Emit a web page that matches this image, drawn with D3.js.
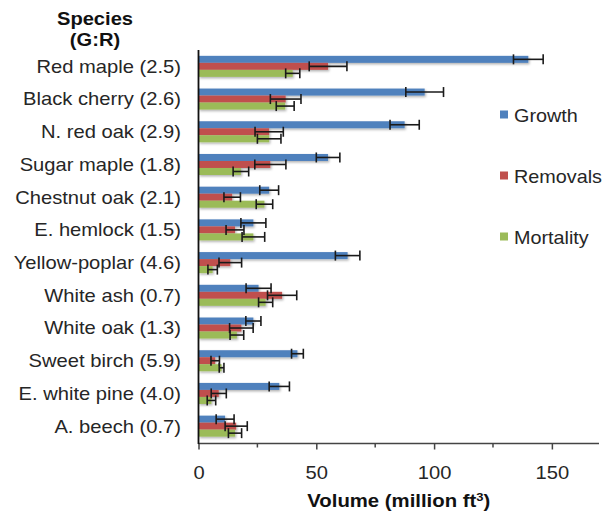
<!DOCTYPE html>
<html>
<head>
<meta charset="utf-8">
<script src="https://cdn.jsdelivr.net/npm/d3@7"></script>
<style>
  html, body { margin: 0; padding: 0; background: #fff; }
  svg { display: block; font-family: "Liberation Sans", Arial, sans-serif; }
</style>
</head>
<body>
<svg id="chart" width="615" height="514"></svg>
<script>
// Species with growth-to-removals ratio (G:R)
const species = [
  "Red maple (2.5)", "Black cherry (2.6)", "N. red oak (2.9)", "Sugar maple (1.8)",
  "Chestnut oak (2.1)", "E. hemlock (1.5)", "Yellow-poplar (4.6)", "White ash (0.7)",
  "White oak (1.3)", "Sweet birch (5.9)", "E. white pine (4.0)", "A. beech (0.7)"
];
const seriesNames = ["Growth", "Removals", "Mortality"];
const seriesColors = ["#4F81BD", "#C0504D", "#9BBB59"];

// Annual volume, million cubic feet
const growth      = [140, 96, 87.5, 55, 30, 23.3, 63.3, 25.5, 23.3, 42, 34.3, 11.3];
const growthErr   = [6.3, 8, 6.2, 5, 4, 5.3, 5.2, 5.3, 3.2, 2.5, 4.3, 3.8];
const removals    = [55, 37, 30, 30.5, 14.3, 15.5, 13.5, 35.5, 18.2, 7.1, 8.6, 16];
const removalsErr = [8, 6.5, 6, 6.6, 3.5, 3.8, 4.8, 6.2, 5, 1.8, 3.2, 4.7];
const mortality   = [40, 36.8, 30, 18, 28, 23.3, 6, 28.5, 16.3, 9.8, 5.5, 15.5];
const mortalityErr= [3, 3.8, 5, 3.3, 3.5, 4.8, 2, 3, 2.9, 1, 1.8, 2.8];

const xTicksMajor = [0, 50, 100, 150];
const xTicksMinor = [25, 75, 125];

const values = [growth, removals, mortality];
const errors = [growthErr, removalsErr, mortalityErr];

const rows = [];
species.forEach((s, i) => {
  seriesNames.forEach((n, k) => {
    rows.push({ species: s, series: n, k, value: values[k][i], err: errors[k][i] });
  });
});

const svg = d3.select("#chart");
const plotLeft = 198.5, plotRight = 599, plotTop = 50, plotBottom = 442.5;
const stretch = 1.12;

const x = d3.scaleLinear().domain([0, 170]).range([plotLeft, plotRight]);
const y = d3.scaleBand().domain(species).range([plotTop, plotBottom])
  .paddingInner(0.357).paddingOuter(0.1785);
const ySub = d3.scaleBand().domain(seriesNames).range([0, y.bandwidth()]);
const color = d3.scaleOrdinal().domain(seriesNames).range(seriesColors);

// soft drop shadow under bars
const defs = svg.append("defs");
const f = defs.append("filter").attr("id", "shadow")
  .attr("x", "-5%").attr("y", "-40%").attr("width", "120%").attr("height", "200%");
f.append("feDropShadow").attr("dx", 1.2).attr("dy", 1.5)
  .attr("stdDeviation", 0.8).attr("flood-color", "#000").attr("flood-opacity", 0.3);

// bars
svg.append("g").attr("filter", "url(#shadow)")
  .selectAll("rect").data(rows).join("rect")
  .attr("x", x(0))
  .attr("y", d => y(d.species) + ySub(d.series))
  .attr("width", d => x(d.value) - x(0))
  .attr("height", ySub.bandwidth())
  .attr("fill", d => color(d.series));

// error bars
const eb = svg.append("g").attr("stroke", "#1a1a1a").attr("stroke-width", 1.6).attr("fill", "none");
rows.forEach(d => {
  const cy = y(d.species) + ySub(d.series) + ySub.bandwidth() / 2;
  const x0 = x(d.value - d.err), x1 = x(d.value + d.err);
  eb.append("line").attr("x1", x0).attr("x2", x1).attr("y1", cy).attr("y2", cy);
  eb.append("line").attr("x1", x0).attr("x2", x0).attr("y1", cy - 5).attr("y2", cy + 5);
  eb.append("line").attr("x1", x1).attr("x2", x1).attr("y1", cy - 5).attr("y2", cy + 5);
});

// x axis
const xAxisG = svg.append("g").attr("transform", `translate(0,${plotBottom + 1})`);
xAxisG.call(d3.axisBottom(x).tickValues(xTicksMajor).tickSize(6).tickSizeOuter(0).tickFormat(d3.format("d")));
xAxisG.select(".domain").attr("stroke", "#444").attr("stroke-width", 1.5)
  .attr("d", `M${plotLeft},0H${plotRight}`);
xAxisG.selectAll(".tick line").attr("stroke", "#444").attr("stroke-width", 1.5);
xAxisG.selectAll(".tick text")
  .attr("font-size", 18).attr("fill", "#262626").attr("y", 0)
  .attr("transform", `translate(0,35) scale(${stretch},1)`)
  .attr("dy", 0).attr("font-family", "Liberation Sans, Arial, sans-serif");
xAxisG.selectAll(".minor").data(xTicksMinor).join("line").attr("class", "minor")
  .attr("x1", d => x(d)).attr("x2", d => x(d)).attr("y1", 0).attr("y2", 4)
  .attr("stroke", "#444").attr("stroke-width", 1.5);

// y axis line
svg.append("line").attr("x1", plotLeft).attr("x2", plotLeft).attr("y1", plotTop).attr("y2", plotBottom + 1.5)
  .attr("stroke", "#111").attr("stroke-width", 1.8);

// category labels
svg.append("g").selectAll("text").data(species).join("text")
  .attr("transform", d => `translate(181,${y(d) + y.bandwidth() / 2 + 6.4}) scale(${stretch},1)`)
  .attr("text-anchor", "end").attr("font-size", 18).attr("fill", "#262626")
  .text(d => d);

// column heading
const head = svg.append("g").attr("font-weight", "bold").attr("font-size", 17.5)
  .attr("fill", "#111").attr("text-anchor", "middle");
head.append("text").attr("transform", `translate(95,25) scale(1.15,1)`).text("Species");
head.append("text").attr("transform", `translate(95,46) scale(1.15,1)`).text("(G:R)");

// axis title
const title = svg.append("text")
  .attr("transform", `translate(${(plotLeft + plotRight) / 2},507) scale(1.13,1)`)
  .attr("text-anchor", "middle").attr("font-weight", "bold").attr("font-size", 18)
  .attr("fill", "#111");
title.append("tspan").text("Volume (million ft");
title.append("tspan").attr("font-size", 11.5).attr("dy", -6.5).text("3");
title.append("tspan").attr("dy", 6.5).text(")");

// legend
const legendY = [115, 176, 237];
const lg = svg.append("g").selectAll("g").data(seriesNames).join("g")
  .attr("transform", (d, i) => `translate(500,${legendY[i]})`);
lg.append("rect").attr("x", 0).attr("y", -4.5).attr("width", 8).attr("height", 8)
  .attr("fill", d => color(d));
lg.append("text").attr("transform", `translate(14,6.5) scale(1.1,1)`)
  .attr("font-size", 18).attr("fill", "#262626").text(d => d);
</script>
</body>
</html>
